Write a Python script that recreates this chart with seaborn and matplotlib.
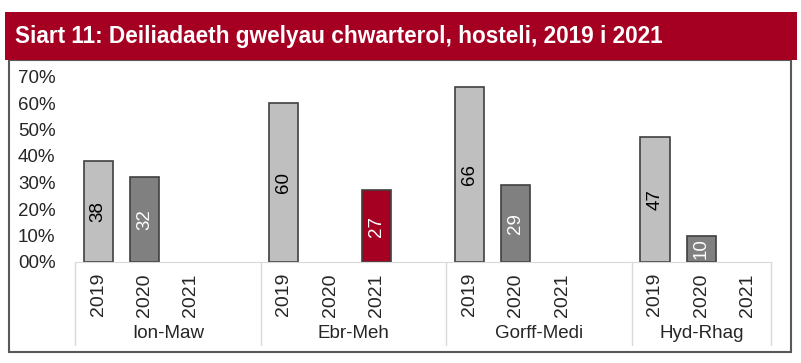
import pandas as pd
import numpy as np
import matplotlib
matplotlib.use("Agg")
import matplotlib.pyplot as plt
import seaborn as sns
from matplotlib.patches import Rectangle

# data
quarters = ["Ion-Maw", "Ebr-Meh", "Gorff-Medi", "Hyd-Rhag"]
years = ["2019", "2020", "2021"]
occ_2019 = [38, 60, 66, 47]
occ_2020 = [32, None, 29, 10]
occ_2021 = [None, 27, None, None]
y_ticks = [0, 10, 20, 30, 40, 50, 60, 70]
y_labels = ["00%", "10%", "20%", "30%", "40%", "50%", "60%", "70%"]

colors = {"2019": "#BFBFBF", "2020": "#808080", "2021": "#A50021"}
text_colors = {"2019": "black", "2020": "white", "2021": "white"}

rows = []
for q, a, b, c in zip(quarters, occ_2019, occ_2020, occ_2021):
    for y, v in zip(years, [a, b, c]):
        if v is not None:
            rows.append({"slot": q + " " + y, "year": y, "value": v})
df = pd.DataFrame(rows)

# slot order: three years per quarter plus a blank gap between quarters
order = []
for i, q in enumerate(quarters):
    order += [q + " " + y for y in years]
    if i < len(quarters) - 1:
        order.append("gap" + str(i))

sns.set_style("white")
plt.rcParams["font.family"] = ["Liberation Sans", "DejaVu Sans"]

fig = plt.figure(figsize=(8.01, 3.63), dpi=100)
ax = fig.add_axes([75 / 801, 101 / 363, 696 / 801, 185.5 / 363])

sns.barplot(data=df, x="slot", y="value", hue="year", order=order,
            palette=colors, saturation=1, width=0.63, edgecolor="#404040",
            linewidth=1.2, legend=False, ax=ax)

fs = 13.5
for cont in ax.containers:
    yr = cont.get_label()
    if yr not in text_colors:
        yr = years[ax.containers.index(cont)]
    ax.bar_label(cont, label_type="center", rotation=90, fontsize=fs,
                 color=text_colors[yr])

ax.set_xlim(-0.5, len(order) - 0.5)
ax.set_ylim(0, 70)
ax.set_yticks(y_ticks, y_labels, fontsize=fs)
ax.tick_params(axis="y", length=0, pad=14)
ax.set_xticks(range(len(order)))
ax.set_xticklabels([s.split(" ")[-1] if not s.startswith("gap") else "" for s in order],
                   rotation=90, fontsize=14)
ax.tick_params(axis="x", length=0, pad=8)
ax.set_xlabel("")
ax.set_ylabel("")
for s in ["top", "right", "left"]:
    ax.spines[s].set_visible(False)
ax.spines["bottom"].set_color("#D9D9D9")

# category separators and quarter labels
trans = ax.get_xaxis_transform()
seps = [-0.5, 3.5, 7.5, 11.5, len(order) - 0.5]
for x in seps:
    ax.plot([x, x], [0, -0.45], transform=trans, color="#D9D9D9", lw=1, clip_on=False)
label_x = [1.5, 5.5, 9.5, 13]
for lx, q in zip(label_x, quarters):
    ax.text(lx, -0.385, q, transform=trans, ha="center", va="center", fontsize=fs)

# outer frame and title bar
fig.patches.append(Rectangle((9 / 801, 11 / 363), 782 / 801, 292 / 363,
                             transform=fig.transFigure, fill=False,
                             edgecolor="#595959", lw=1.5, zorder=0))
fig.patches.append(Rectangle((5 / 801, 303 / 363), 792 / 801, 48 / 363,
                             transform=fig.transFigure, facecolor="#A50021",
                             edgecolor="none", zorder=1))
fig.text(15 / 801, 327 / 363, "Siart 11: Deiliadaeth gwelyau chwarterol, hosteli, 2019 i 2021",
         color="white", fontsize=16.3, fontweight="bold", va="center", ha="left")

fig.savefig("out.png", dpi=100)
